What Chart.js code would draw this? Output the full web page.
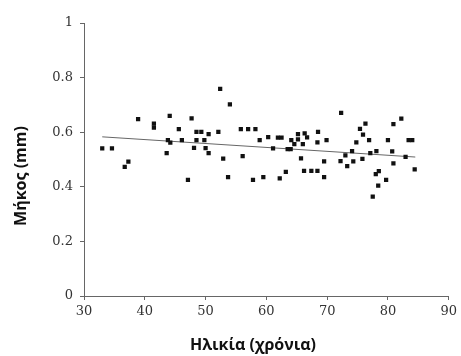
<!DOCTYPE html>
<html>
<head>
<meta charset="utf-8">
<script src="https://cdn.jsdelivr.net/npm/chart.js@4"></script>
<style>
  html, body { margin: 0; padding: 0; background: #fff; }
  #wrap { width: 461px; height: 356px; }
</style>
</head>
<body>
<div id="wrap"><canvas id="chart" width="461" height="356"></canvas></div>
<script>
// ---------------------------
// Data
// ---------------------------
const ages = [
  33.0, 34.6, 36.7, 37.3, 38.9, 41.5, 41.5, 43.6, 43.8, 44.1,
  44.2, 45.6, 46.1, 47.1, 47.7, 48.1, 48.5, 48.5, 49.3, 49.8,
  50.0, 50.5, 50.5, 52.1, 52.4, 52.9, 53.7, 54.0, 55.8, 56.1,
  57.0, 57.8, 58.2, 58.9, 59.5, 60.3, 61.1, 61.9, 62.2, 62.5,
  63.2, 63.5, 64.0, 64.1, 64.6, 65.2, 65.2, 65.7, 66.0, 66.2,
  66.3, 66.7, 67.4, 68.4, 68.4, 68.5, 69.5, 69.5, 69.9, 72.2,
  72.3, 73.0, 73.3, 74.1, 74.3, 74.8, 75.4, 75.8, 75.9, 76.3,
  76.9, 77.1, 77.5, 78.0, 78.1, 78.4, 78.5, 79.7, 80.0, 80.7,
  80.9, 80.9, 82.2, 82.9, 83.4, 84.0, 84.4
];
const lengths = [
  0.541, 0.541, 0.473, 0.492, 0.648, 0.631, 0.617, 0.523, 0.571, 0.660,
  0.562, 0.611, 0.571, 0.425, 0.651, 0.543, 0.601, 0.571, 0.601, 0.571,
  0.542, 0.593, 0.523, 0.601, 0.759, 0.503, 0.435, 0.702, 0.611, 0.512,
  0.611, 0.425, 0.611, 0.571, 0.435, 0.582, 0.541, 0.580, 0.431, 0.580,
  0.455, 0.538, 0.538, 0.571, 0.556, 0.593, 0.574, 0.504, 0.556, 0.458,
  0.596, 0.581, 0.458, 0.458, 0.563, 0.601, 0.493, 0.435, 0.571, 0.494,
  0.671, 0.515, 0.476, 0.531, 0.493, 0.563, 0.612, 0.502, 0.591, 0.631,
  0.571, 0.523, 0.364, 0.446, 0.531, 0.404, 0.457, 0.425, 0.571, 0.530,
  0.630, 0.486, 0.650, 0.510, 0.571, 0.571, 0.464
];
// fitted line, two ends as drawn in the figure
const trendAges = [33, 84.5];
const trendLengths = [0.583, 0.509];

const xTitle = "Ηλικία (χρόνια)";
const yTitle = "Μήκος (mm)";

const tickFont = { family: "DejaVu Serif", size: 13 };

// axis titles drawn by hand so they sit where the scan has them
const axisTitles = {
  id: "axisTitles",
  afterDraw(chart) {
    const ctx = chart.ctx;
    ctx.save();
    ctx.fillStyle = "#111";
    ctx.font = "bold 16px 'Open Sans'";
    ctx.textAlign = "center";
    ctx.textBaseline = "middle";
    ctx.fillText(xTitle, 253, 345);
    ctx.translate(21, 176);
    ctx.rotate(-Math.PI / 2);
    ctx.fillText(yTitle, 0, 0);
    ctx.restore();
  }
};

new Chart(document.getElementById("chart"), {
  type: "scatter",
  data: {
    datasets: [
      {
        label: "points",
        data: ages.map((a, i) => ({ x: a, y: lengths[i] })),
        pointStyle: "rect",
        pointRadius: 3,
        backgroundColor: "#111",
        borderColor: "#111",
        borderWidth: 0
      },
      {
        label: "fit",
        type: "line",
        data: trendAges.map((a, i) => ({ x: a, y: trendLengths[i] })),
        borderColor: "#666",
        borderWidth: 1,
        pointRadius: 0,
        fill: false
      }
    ]
  },
  options: {
    responsive: false,
    animation: false,
    layout: { padding: { top: 23, right: 11, left: 0, bottom: 0 } },
    plugins: { legend: { display: false }, tooltip: { enabled: false } },
    scales: {
      x: {
        type: "linear",
        min: 30, max: 90,
        ticks: { stepSize: 10, color: "#333", font: tickFont, padding: 4 },
        grid: { drawOnChartArea: false, color: "#666", tickLength: 4 },
        border: { color: "#666" },
        afterFit(scale) { scale.height = 60; }
      },
      y: {
        min: 0, max: 1,
        ticks: {
          stepSize: 0.2, color: "#333", font: tickFont, padding: 7,
          callback: v => String(parseFloat(v.toFixed(1)))
        },
        grid: { drawOnChartArea: false, color: "#666", tickLength: 4 },
        border: { color: "#666" },
        afterFit(scale) { scale.width = 84; }
      }
    }
  },
  plugins: [axisTitles]
});
</script>
</body>
</html>
